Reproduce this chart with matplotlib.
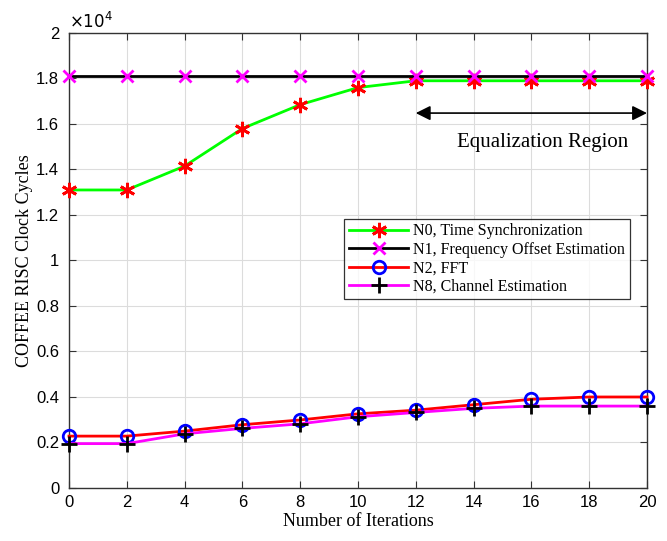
import matplotlib
matplotlib.use("Agg")
import matplotlib.pyplot as plt
from matplotlib.ticker import FuncFormatter, MultipleLocator

iterations = [0, 2, 4, 6, 8, 10, 12, 14, 16, 18, 20]
n0_time_sync = [13100, 13100, 14150, 15800, 16850, 17600, 17900, 17900, 17900, 17900, 17900]
n1_freq_offset = [18100] * 11
n2_fft = [2280, 2280, 2500, 2780, 2990, 3260, 3420, 3660, 3900, 4000, 4000]
n8_channel = [1950, 1950, 2380, 2620, 2820, 3130, 3320, 3500, 3600, 3600, 3600]

labels = ["N0, Time Synchronization", "N1, Frequency Offset Estimation",
          "N2, FFT", "N8, Channel Estimation"]

fig = plt.figure(figsize=(6.67, 5.41), dpi=100)
ax = fig.add_axes([0.1034, 0.098, 0.8666, 0.841])

serif = "Liberation Serif"
sans = "Liberation Sans"

ax.plot(iterations, n0_time_sync, color="#00ff00", lw=2, marker=(6, 2, 0),
        markersize=11, markeredgecolor="red", markeredgewidth=2, label=labels[0],
        clip_on=False, zorder=3)
ax.plot(iterations, n1_freq_offset, color="black", lw=2, marker="x",
        markersize=9, markeredgecolor="magenta", markeredgewidth=2, label=labels[1],
        clip_on=False, zorder=3)
ax.plot(iterations, n2_fft, color="red", lw=2, marker="o", markersize=9,
        markerfacecolor="none", markeredgecolor="blue", markeredgewidth=2, label=labels[2],
        clip_on=False, zorder=3)
ax.plot(iterations, n8_channel, color="magenta", lw=2, marker="+", markersize=12,
        markeredgecolor="black", markeredgewidth=2, label=labels[3],
        clip_on=False, zorder=3)

ax.set_xlim(0, 20)
ax.set_ylim(0, 20000)
ax.xaxis.set_major_locator(MultipleLocator(2))
ax.yaxis.set_major_locator(MultipleLocator(2000))
ax.yaxis.set_major_formatter(FuncFormatter(lambda v, p: "%g" % round(v / 1e4, 2)))
ax.grid(True, color="#dcdcdc", lw=0.8)
ax.set_axisbelow(True)
ax.tick_params(direction="in", top=True, right=True, labelsize=12, length=5, color="#333333")
ax.tick_params(axis="y", pad=7)
ax.tick_params(axis="x", pad=5)
for lab in ax.get_xticklabels() + ax.get_yticklabels():
    lab.set_fontfamily(sans)
for s in ax.spines.values():
    s.set_color("#333333")
    s.set_linewidth(1.0)

ax.text(0.0, 1.005, r"$\times10^4$", transform=ax.transAxes, fontsize=12,
        fontfamily=sans, ha="left", va="bottom")

ax.set_xlabel("Number of Iterations", fontfamily=serif, fontsize=13, labelpad=2)
ax.set_ylabel("COFFEE RISC Clock Cycles", fontfamily=serif, fontsize=13, labelpad=2)

ax.annotate("", xy=(12, 16480), xytext=(20, 16480),
            arrowprops=dict(arrowstyle="<|-|>", color="black", lw=1.2,
                            mutation_scale=22, shrinkA=0, shrinkB=0))
ax.text(16.4, 15200, "Equalization Region", fontfamily=serif, fontsize=15,
        ha="center", va="center")

leg = ax.legend(loc="upper right", bbox_to_anchor=(0.97, 0.592),
                prop={"family": serif, "size": 11.5}, frameon=True,
                fancybox=False, edgecolor="black", handlelength=3.7,
                borderpad=0.3, labelspacing=0.15, handletextpad=0.3,
                borderaxespad=0)
leg.get_frame().set_linewidth(0.9)
leg.set_zorder(5)

fig.savefig("out.png", dpi=100)
